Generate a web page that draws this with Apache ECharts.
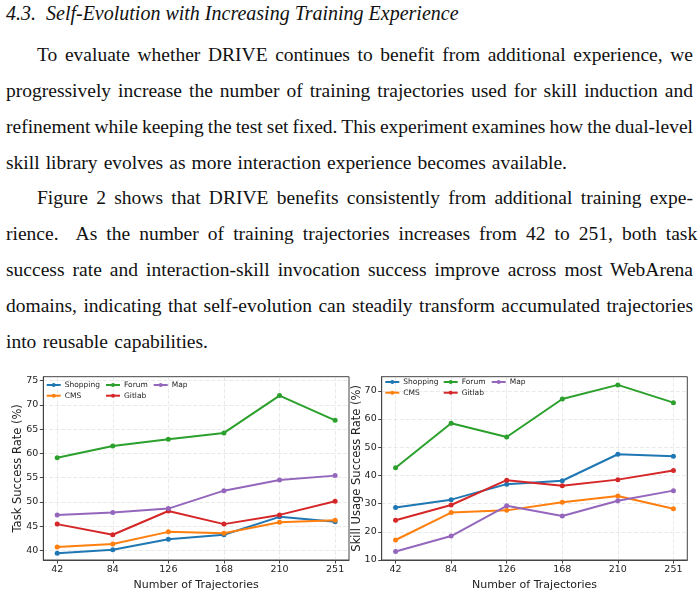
<!DOCTYPE html>
<html>
<head>
<meta charset="utf-8">
<script src="https://cdn.jsdelivr.net/npm/echarts@6/dist/echarts.min.js"></script>
<style>
  html, body { margin: 0; padding: 0; background: #fff; }
  body { width: 700px; height: 596px; position: relative; overflow: hidden; }
  .txt { position: absolute; left: 6px; width: 687px; font-family: 'Liberation Serif', 'DejaVu Serif', serif;
         font-size: 19.5px; line-height: 36px; color: #111; white-space: nowrap; }
  .head { font-style: italic; font-size: 20px; line-height: 24px; }
  .ind { left: 37px; width: 656px; }
  #chart { position: absolute; left: 0; top: 370px; width: 700px; height: 226px; }
</style>
</head>
<body>
<div class="txt head" style="top:1px">4.3.&nbsp;&nbsp;Self-Evolution with Increasing Training Experience</div>
<div class="txt ind j" style="top:37px">To evaluate whether DRIVE continues to benefit from additional experience, we</div>
<div class="txt j" style="top:73px">progressively increase the number of training trajectories used for skill induction and</div>
<div class="txt j" style="top:109px">refinement while keeping the test set fixed. This experiment examines how the dual-level</div>
<div class="txt j" style="top:145px; width:561px">skill library evolves as more interaction experience becomes available.</div>
<div class="txt ind j" style="top:180px">Figure 2 shows that DRIVE benefits consistently from additional training expe-</div>
<div class="txt j" style="top:216px">rience.&nbsp; As the number of training trajectories increases from 42 to 251, both task</div>
<div class="txt j" style="top:252px">success rate and interaction-skill invocation success improve across most WebArena</div>
<div class="txt j" style="top:288px">domains, indicating that self-evolution can steadily transform accumulated trajectories</div>
<div class="txt j" style="top:324px; width:202px">into reusable capabilities.</div>
<div id="chart"></div>
<script>
// x categories (number of training trajectories)
const trajectories = ['42', '84', '126', '168', '210', '251'];
const domains = ['Shopping', 'CMS', 'Forum', 'Gitlab', 'Map'];

// left panel: task success rate (%)
const taskShopping = [39.4, 40.1, 42.3, 43.2, 46.9, 45.9];
const taskCMS      = [40.7, 41.3, 43.8, 43.5, 45.8, 46.2];
const taskForum    = [59.1, 61.5, 62.9, 64.2, 71.9, 66.8];
const taskGitlab   = [45.4, 43.2, 48.1, 45.4, 47.3, 50.1];
const taskMap      = [47.3, 47.8, 48.6, 52.3, 54.5, 55.4];

// right panel: skill usage success rate (%)
const usageShopping = [28.6, 31.4, 36.9, 38.1, 47.5, 46.8];
const usageCMS      = [17.1, 26.8, 27.6, 30.5, 32.7, 28.2];
const usageForum    = [42.7, 58.5, 53.6, 67.1, 72.1, 65.8];
const usageGitlab   = [24.1, 29.5, 38.3, 36.3, 38.5, 41.7];
const usageMap      = [13.0, 18.5, 29.2, 25.6, 31.0, 34.6];

const taskTicks = [40, 45, 50, 55, 60, 65, 70, 75];
const usageTicks = [10, 20, 30, 40, 50, 60, 70];

const colors = ['#1f77b4', '#ff7f0e', '#2ca02c', '#d62728', '#9467bd'];
const taskData = [taskShopping, taskCMS, taskForum, taskGitlab, taskMap];
const usageData = [usageShopping, usageCMS, usageForum, usageGitlab, usageMap];

// justify each text line to its box width
document.querySelectorAll('.j').forEach(el => {
  const span = document.createElement('span');
  span.innerHTML = el.innerHTML;
  el.innerHTML = '';
  el.appendChild(span);
  const natural = span.getBoundingClientRect().width;
  const gaps = (span.textContent.match(/ /g) || []).length;
  const target = el.getBoundingClientRect().width;
  if (gaps) span.style.wordSpacing = ((target - natural) / gaps) + 'px';
});

const FONT = 'DejaVu Sans';
const frame = '#444';

function xAxis(gridIndex) {
  return {
    type: 'value', gridIndex, min: -0.25, max: 5.25, minInterval: 1, maxInterval: 1,
    axisLine: { show: true, onZero: false, lineStyle: { color: frame, width: 1 } },
    axisTick: { show: true, length: 3.5, customValues: [0, 1, 2, 3, 4, 5], lineStyle: { color: frame } },
    axisLabel: { customValues: [0, 1, 2, 3, 4, 5], formatter: v => trajectories[v], margin: 5,
                 fontFamily: FONT, fontSize: 9.5, color: '#222' },
    splitLine: { show: true, lineStyle: { color: 'rgba(176,176,176,0.35)', type: [4, 2], width: 0.8 } },
    name: 'Number of Trajectories', nameLocation: 'middle', nameGap: 20, nameMoveOverlap: false,
    nameTextStyle: { fontFamily: FONT, fontSize: 11, color: '#222' }
  };
}

function yAxis(gridIndex, min, max, step, ticks, name) {
  return {
    type: 'value', gridIndex, min, max, minInterval: step, maxInterval: step,
    axisLine: { show: true, onZero: false, lineStyle: { color: frame, width: 1 } },
    axisTick: { show: true, length: 3.5, customValues: ticks, lineStyle: { color: frame } },
    axisLabel: { customValues: ticks, margin: 5, fontFamily: FONT, fontSize: 9.5, color: '#222' },
    splitLine: { show: true, lineStyle: { color: 'rgba(176,176,176,0.35)', type: [4, 2], width: 0.8 } },
    name, nameLocation: 'middle', nameGap: 19, nameMoveOverlap: false,
    nameTextStyle: { fontFamily: FONT, fontSize: 11.5, color: '#222' }
  };
}

function buildSeries(values, idx) {
  return domains.map((d, i) => ({
    name: d, type: 'line', xAxisIndex: idx, yAxisIndex: idx,
    data: values[i].map((v, k) => [k, v]),
    symbol: 'circle', symbolSize: 5, showSymbol: true,
    lineStyle: { width: 2, color: colors[i] },
    itemStyle: { color: colors[i] },
    emphasis: { disabled: true },
    animation: false
  }));
}

// legend slots: matplotlib style ncol=3, filled column by column
const legendCols = [[0, 1], [2, 3], [4]];
function legends(colX, rowY) {
  const out = [];
  legendCols.forEach((col, c) => {
    col.forEach((di, r) => {
      out.push({
        data: [domains[di]], left: colX[c], top: rowY[r] - 5, padding: 0,
        itemWidth: 14, itemHeight: 5, selectedMode: false,
        textStyle: { fontFamily: FONT, fontSize: 7.5, color: '#222', padding: [0, 0, 0, -1] }
      });
    });
  });
  return out;
}

const chart = echarts.init(document.getElementById('chart'));
chart.setOption({
  animation: false,
  color: colors,
  grid: [
    { left: 43.3, top: 6.7, width: 305.7, height: 185.6, show: true, borderColor: frame, borderWidth: 1 },
    { left: 381.7, top: 6.7, width: 305.6, height: 185.6, show: true, borderColor: frame, borderWidth: 1 }
  ],
  xAxis: [xAxis(0), xAxis(1)],
  yAxis: [
    yAxis(0, 38, 75.8, 5, taskTicks, 'Task Success Rate (%)'),
    yAxis(1, 10, 75, 10, usageTicks, 'Skill Usage Success Rate (%)')
  ],
  legend: legends([45.7, 105, 152.7], [16, 26.7])
    .concat(legends([384.3, 442.7, 490.7], [13, 23.7])),
  series: buildSeries(taskData, 0).concat(buildSeries(usageData, 1))
});
</script>
</body>
</html>
